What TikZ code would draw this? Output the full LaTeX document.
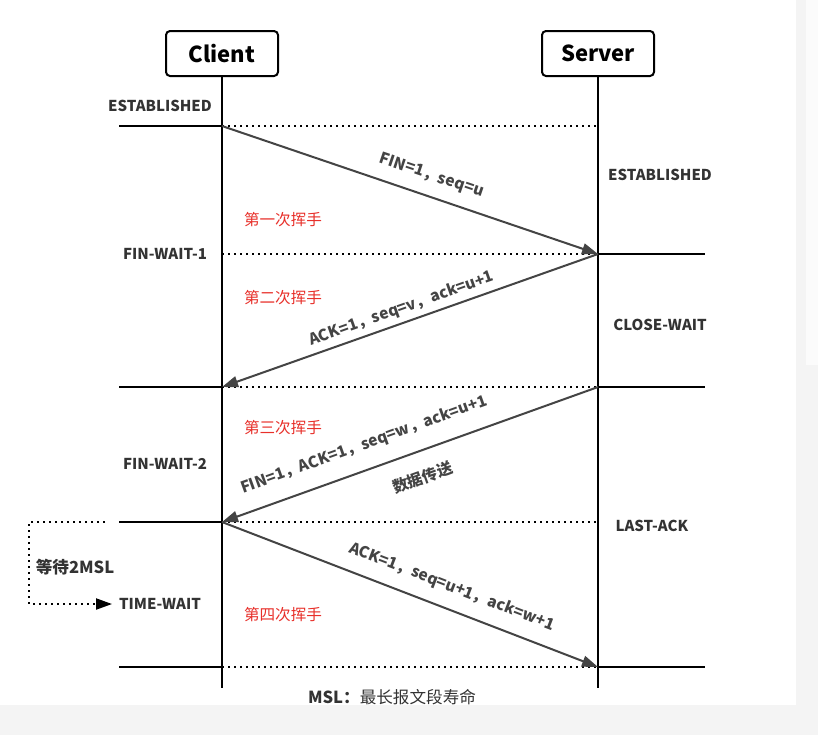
\documentclass[tikz,border=0pt]{standalone}
\usepackage{fontspec}
\setmainfont{Noto Sans CJK SC}
\usepackage{xcolor}
\usetikzlibrary{arrows.meta}
\definecolor{msggray}{HTML}{444444}
\definecolor{txtgray}{HTML}{333333}
\definecolor{hsred}{HTML}{E8302A}
\definecolor{stripgray}{HTML}{F4F4F4}
\tikzset{
  party/.style={draw, line width=1pt, rounded corners=2pt, minimum width=56pt,
    minimum height=22.5pt, font=\bfseries\fontsize{11}{13}\selectfont},
  state/.style={font=\bfseries\fontsize{7.5}{9}\selectfont, text=txtgray},
  msg/.style={draw=msggray, line width=1pt, -{Triangle[length=8pt,width=5.5pt]}},
  msglabel/.style={font=\bfseries\fontsize{7.8}{9}\selectfont, text=msggray, sloped, inner sep=0pt},
  wave/.style={font=\fontsize{7.8}{9}\selectfont, text=hsred},
  level/.style={line width=1pt},
  gap/.style={line width=1pt, dotted},
}

\begin{document}
\begin{tikzpicture}[x=0.5pt,y=-0.5pt]
\fill[white] (0,0) rectangle (818,735);
\fill[stripgray] (796,0) rectangle (818,735);
\fill[stripgray] (0,705) rectangle (818,735);
\fill[white!60!stripgray] (806,0) rectangle (818,365);

\node[party] (client) at (222,53.5) {Client};
\node[party] (server) at (598,53.5) {Server};
\coordinate (cend) at (222,688);
\coordinate (send) at (598,688);
\draw[line width=0.75pt] (client) -- (cend);
\draw[line width=0.75pt] (server) -- (send);

\foreach \i/\y in {1/126,2/254,3/387,4/522,5/667} {
  \coordinate (c\i) at (222,\y);
  \coordinate (s\i) at (598,\y);
  \coordinate (l\i) at (119,\y);
  \coordinate (r\i) at (705,\y);
}
\foreach \i in {1,...,5} \draw[gap] (c\i) -- (s\i);
\foreach \i in {1,3,4,5} \draw[level] (l\i) -- (c\i);
\foreach \i in {2,3,5} \draw[level] (s\i) -- (r\i);

\draw[msg] (c1) -- node[msglabel, pos=0.54, above=6pt] {FIN=1，seq=u} (s2);
\draw[msg] (s2) -- node[msglabel, pos=0.51, above=2.5pt] {ACK=1，seq=v，ack=u+1} (c3);
\draw[msg] (s3) -- node[msglabel, pos=0.6, above=7.9pt] {FIN=1，ACK=1，seq=w，ack=u+1}
  node[msglabel, pos=0.49, below=8.8pt] {数据传送} (c4);
\draw[msg] (c4) -- node[msglabel, pos=0.59, above=6.6pt] {ACK=1，seq=u+1，ack=w+1} (s5);

\node[state] (estc) at (160,106) {ESTABLISHED};
\node[state] (fw1) at (165,254) {FIN-WAIT-1};
\node[state] (fw2) at (165,464) {FIN-WAIT-2};
\node[state] (tw) at (160,604) {TIME-WAIT};
\node[state] (ests) at (660,175) {ESTABLISHED};
\node[state] (cw) at (660,325) {CLOSE-WAIT};
\node[state] (la) at (652,526) {LAST-ACK};

\node[wave] (wave1) at (283,220) {第一次挥手};
\node[wave] (wave2) at (283,298) {第二次挥手};
\node[wave] (wave3) at (283,428) {第三次挥手};
\node[wave] (wave4) at (283,615) {第四次挥手};

\coordinate (w1) at (105,522);
\coordinate (w2) at (29,522);
\coordinate (w3) at (29,604);
\draw[gap, -{Triangle[length=8pt,width=5.5pt]}] (w1) -- (w2) -- (w3) -- (tw.west);
\node[state, font=\bfseries\fontsize{8.3}{10}\selectfont] (msl2) at (75,567) {等待2MSL};

\node[text=txtgray, font=\fontsize{8.3}{10}\selectfont] (note) at (392,697) {\textbf{MSL：}最长报文段寿命};
\end{tikzpicture}
\end{document}
